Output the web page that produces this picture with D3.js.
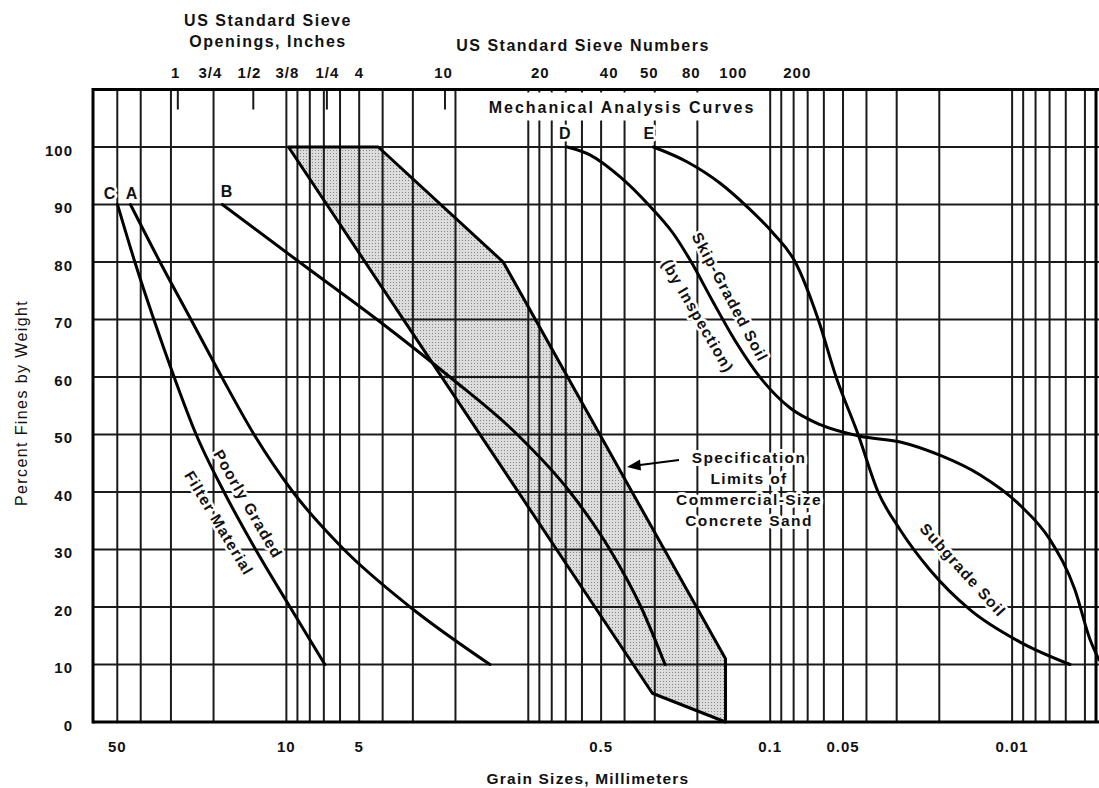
<!DOCTYPE html>
<html><head><meta charset="utf-8">
<script src="https://cdn.jsdelivr.net/npm/d3@7"></script>
<style>
body{margin:0;background:#fff}
svg text{font-family:"Liberation Sans",Arial,Helvetica,sans-serif;fill:#111}
</style>
</head><body>
<svg id="chart" width="1099" height="788"></svg>
<script>
// ---------- data ----------
const percentTicks = [0,10,20,30,40,50,60,70,80,90,100];
const gridSizesMm = [50,40,30,20,10,9,8,7,6,5,4,3,2,1,0.9,0.8,0.7,0.6,0.5,0.4,0.3,0.2,
                     0.1,0.09,0.08,0.07,0.06,0.05,0.04,0.03,0.02,0.01,0.009,0.008,0.007,0.006,0.005];
const bottomLabelMm = [50,10,5,0.5,0.1,0.05,0.01];
const bottomLabels = ["50","10","5","0.5","0.1","0.05","0.01"];
const sieveInchLabels = ["1","3/4","1/2","3/8","1/4"];
const sieveInchMm = [28.7,20.6,14.2,9.9,6.77];          // where the labels sit on the chart
const sieveNumLabels = ["4","10","20","40","50","80","100","200"];
const sieveNumMm = [4.99,2.24,0.892,0.463,0.316,0.212,0.142,0.0773];
const sieveTickMm = [28.1,13.7,6.8,2.21];                // short ticks under the top border

const curveC = [[49.9,90],[42.3,80],[35.3,70],[29.1,60],[23.6,50],[18.1,40],[13.4,30],[9.66,20],[6.93,10]];
const curveA = [[44.1,90],[33.3,80],[24.8,70],[18.5,60],[13.6,50],[9.39,40],[5.78,30],[3.08,20],[1.44,10]];
const curveB = [[18.4,90],[8.84,80],[4.22,70],[2.11,60],[1.11,50],[0.672,40],[0.46,30],[0.342,20],[0.272,10]];
const curveD = [[0.69,100],[0.554,98.6],[0.417,94.8],[0.319,90],[0.252,85],[0.214,80.3],[0.172,73],
                [0.14,66.4],[0.108,59.5],[0.0827,54.6],[0.0621,51.7],[0.0425,49.7],[0.029,48.7],
                [0.0199,46.4],[0.0136,43],[0.00927,37.7],[0.00697,31.7],[0.0055,23],[0.00476,14.3],[0.00437,10.8]];
const curveE = [[0.304,100],[0.22,97.4],[0.161,93.7],[0.1245,89.6],[0.0972,85],[0.0788,80],[0.0633,70],
                [0.0534,60],[0.0433,50],[0.0358,40],[0.029,33.4],[0.0218,26.4],[0.0149,19.5],[0.00927,13.9],[0.00576,10]];
const specLimits = [[9.8,100],[4.17,100],[1.27,80],[0.153,11],[0.153,0],[0.307,5]];

// ---------- scales ----------
const svg = d3.select("#chart");
const x = d3.scaleLog().domain([63,0.0045]).range([93,1096]);
const y = d3.scaleLinear().domain([0,110]).range([722,89.5]);
const X0 = x.range()[0], X1 = 1099;

const defs = svg.append("defs");
const pat = defs.append("pattern").attr("id","stip").attr("width",3).attr("height",3)
  .attr("patternUnits","userSpaceOnUse");
pat.append("rect").attr("width",3).attr("height",3).attr("fill","#dcdcdc");
pat.append("rect").attr("width",1).attr("height",1).attr("fill","#858585");

// shaded specification band
svg.append("path").datum(specLimits)
  .attr("d", d3.line().x(d=>x(d[0])).y(d=>y(d[1])).curve(d3.curveLinearClosed))
  .attr("fill","url(#stip)").attr("stroke","none");

// grid
const grid = svg.append("g").attr("stroke","#1a1a1a").attr("stroke-width",2);
grid.selectAll(".v").data(gridSizesMm).join("line")
  .attr("x1",d=>x(d)).attr("x2",d=>x(d)).attr("y1",y(0)).attr("y2",y(110));
grid.selectAll(".h").data(percentTicks.filter(d=>d>0)).join("line")
  .attr("x1",X0).attr("x2",X1).attr("y1",d=>y(d)).attr("y2",d=>y(d));
grid.selectAll(".t").data(sieveTickMm).join("line")
  .attr("x1",d=>x(d)).attr("x2",d=>x(d)).attr("y1",y(110)).attr("y2",y(110)+20);

// white box for the inner title
svg.append("rect").attr("x",470).attr("y",y(110)+3).attr("width",292).attr("height",28).attr("fill","#fff");

// borders
const bord = svg.append("g").attr("stroke","#000").attr("stroke-width",3).attr("fill","none");
bord.append("line").attr("x1",X0).attr("x2",X1).attr("y1",y(0)).attr("y2",y(0));
bord.append("line").attr("x1",X0).attr("x2",X1).attr("y1",y(110)).attr("y2",y(110));
bord.append("line").attr("x1",X0).attr("x2",X0).attr("y1",y(0)+1.5).attr("y2",y(110)-1.5);
bord.append("line").attr("x1",x.range()[1]).attr("x2",x.range()[1]).attr("y1",y(0)).attr("y2",y(110));

// band outline
svg.append("path").datum(specLimits)
  .attr("d", d3.line().x(d=>x(d[0])).y(d=>y(d[1])).curve(d3.curveLinearClosed))
  .attr("fill","none").attr("stroke","#000").attr("stroke-width",3).attr("stroke-linejoin","round");

// curves
const cl = d3.line().x(d=>x(d[0])).y(d=>y(d[1])).curve(d3.curveMonotoneX);
[curveC,curveA,curveB,curveD,curveE].forEach(c=>{
  svg.append("path").datum(c).attr("d",cl).attr("fill","none")
    .attr("stroke","#000").attr("stroke-width",3).attr("stroke-linecap","round");
});

// ---------- text ----------
function label(s, px, py, o={}){
  const t = svg.append("text")
    .attr("transform",`translate(${px},${py}) rotate(${o.rotate||0})`)
    .attr("text-anchor",o.anchor||"middle")
    .attr("dominant-baseline","central")
    .attr("font-size",o.size||16)
    .attr("font-weight",o.weight||"bold")
    .attr("letter-spacing",o.ls===undefined?1.2:o.ls)
    .text(s);
  if(o.halo){ t.attr("stroke","#fff").attr("stroke-width",o.halo).attr("paint-order","stroke")
      .attr("stroke-linejoin","round"); }
  return t;
}

label("US Standard Sieve",268,20,{size:16,ls:1.5});
label("Openings, Inches",268,41,{size:16,ls:1.5});
label("US Standard Sieve Numbers",583,45,{size:16,ls:1.5});
sieveInchLabels.forEach((s,i)=>label(s,x(sieveInchMm[i]),72,{size:15,ls:1}));
sieveNumLabels.forEach((s,i)=>label(s,x(sieveNumMm[i]),72,{size:15,ls:1}));

percentTicks.forEach(p=>label(String(p),73,y(p)+3,{anchor:"end",size:15,ls:1}));
label("Percent Fines by Weight",21,403,{rotate:-90,size:16,weight:"normal",ls:1.4});

bottomLabelMm.forEach((d,i)=>label(bottomLabels[i],x(d),746,{size:15,ls:1}));
label("Grain Sizes, Millimeters",588,778,{size:15.5,ls:1.2});

label("Mechanical Analysis Curves",622,107,{size:16,ls:2});
label("D",x(curveD[0][0])-2,133,{size:16,halo:5});
label("E",x(curveE[0][0])-4,133,{size:16,halo:5});
label("C",110,193,{size:16,halo:5});
label("A",132,193,{size:16,halo:5});
label("B",227,191,{size:16,halo:5});

label("Poorly Graded",248,504,{rotate:60,size:15.5,halo:5});
label("Filter Material",219,523,{rotate:59,size:15.5,halo:5});
label("Skip-Graded Soil",730,297,{rotate:62,size:15.5,halo:5});
label("(by Inspection)",698,316,{rotate:60,size:15.5,halo:5});
label("Subgrade Soil",963,570,{rotate:48,size:15.5,halo:5});

["Specification","Limits of","Commercial-Size","Concrete Sand"].forEach((s,i)=>
  label(s,749,457+i*21,{size:15.5,ls:1.4,halo:6}));

// arrow
svg.append("line").attr("x1",679).attr("y1",460).attr("x2",636).attr("y2",465.5)
  .attr("stroke","#000").attr("stroke-width",2);
svg.append("path").attr("d","M627,467 L640,459.5 L641,470.5 Z").attr("fill","#000");
</script>
</body></html>
